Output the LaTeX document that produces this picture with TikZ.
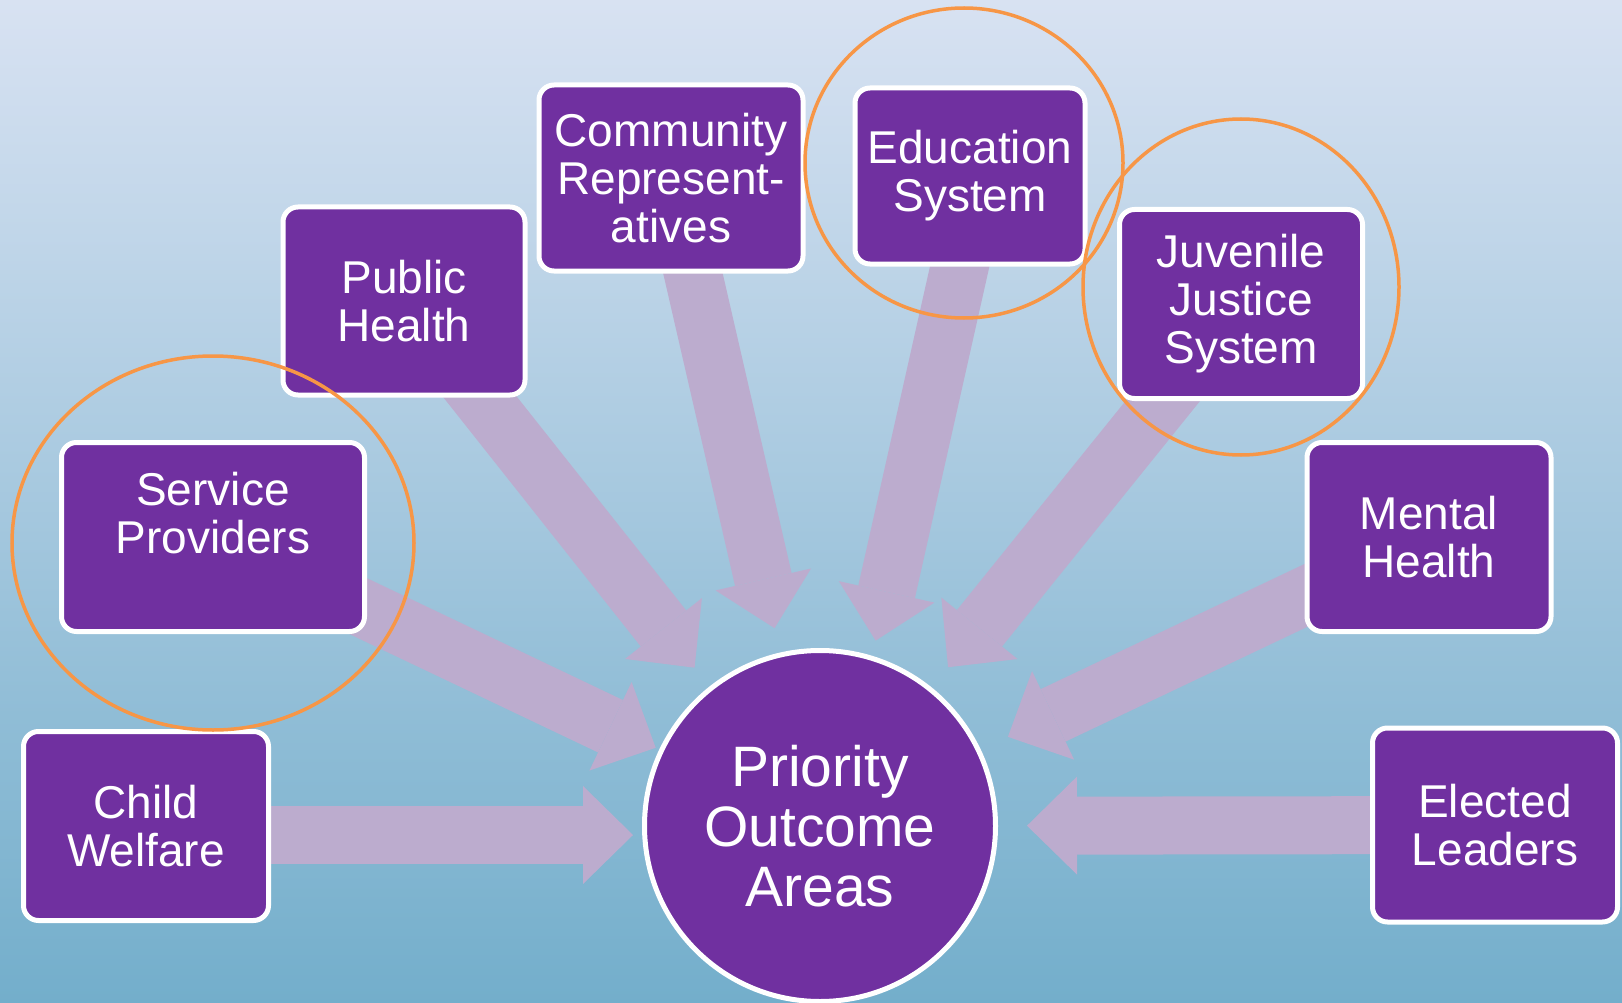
\documentclass[tikz,border=0pt]{standalone}
\usepackage{fontspec}
\setmainfont{Liberation Sans}
\usetikzlibrary{arrows.meta,backgrounds}
\definecolor{boxpurple}{RGB}{112,48,160}
\definecolor{flowlilac}{RGB}{188,172,206}
\definecolor{ringorange}{RGB}{247,150,70}
\definecolor{skytop}{RGB}{216,226,242}
\definecolor{skymid}{RGB}{158,196,224}
\definecolor{skybottom}{RGB}{115,174,203}
\pgfdeclarelayer{sky}
\pgfsetlayers{sky,background,main}

\begin{document}
\begin{tikzpicture}[x=1pt,y=-1pt,
  actor/.style={draw=white,line width=5pt,fill=boxpurple,rounded corners=15pt,
    text=white,align=center,font=\fontsize{46}{48}\selectfont,inner sep=0pt,
    minimum width=245pt,minimum height=189pt},
  hub/.style={circle,draw=white,line width=5pt,fill=boxpurple,text=white,
    align=center,font=\fontsize{57}{60}\selectfont,minimum size=351pt,inner sep=0pt},
  flow/.style={draw=flowlilac,line width=58pt,
    -{Triangle[length=50pt,width=98pt,line width=0pt]}},
  ring/.style={draw=ringorange,line width=3.5pt}]
\useasboundingbox (0,0) rectangle (1622,1003);
\clip (0,0) rectangle (1622,1003);
\begin{pgfonlayer}{sky}
\shade[top color=skytop,middle color=skymid,bottom color=skybottom]
  (0,0) rectangle (1622,1003);
\end{pgfonlayer}

% partners
\node[actor] (child) at (146,826) {Child\\Welfare};
\node[actor,minimum width=303pt] (providers) at (213,537) {Service\\Providers\\\mbox{}};
\node[actor,minimum width=242pt,minimum height=188pt] (health) at (404,301) {Public\\Health};
\node[actor,minimum width=264pt,minimum height=186pt] (community) at (671,178) {Community\\Represent-\\atives};
\node[actor,minimum width=230pt,minimum height=176pt] (education) at (970,176) {Education\\System};
\node[actor,minimum width=243pt] (justice) at (1241,304) {Juvenile\\Justice\\System};
\node[actor,minimum width=244pt] (mental) at (1429,537) {Mental\\Health};
\node[actor,minimum height=194pt] (leaders) at (1495,825) {Elected\\Leaders};
\node[hub] (priority) at (820,826) {Priority\\Outcome\\Areas};

% arrows into the hub
\begin{scope}[on background layer]
\draw[flow,shorten >=9pt] ([yshift=-9pt]child.center) -- ([yshift=-9pt]priority.west);
\draw[flow,shorten >=4pt] (providers.center) -- (priority);
\draw[flow,shorten >=24pt] (health.center) -- (priority);
\draw[flow,shorten >=25pt] (community.center) -- (priority);
\draw[flow,shorten >=190pt] ([xshift=10pt]education.center) -- ([xshift=14pt]priority.center);
\draw[flow,shorten >=26pt] (justice.center) -- (priority);
\draw[flow,shorten >=30pt] (mental.center) -- (priority);
\draw[flow,shorten >=29pt] (leaders.center) -- (priority);
\end{scope}

% highlights
\draw[ring] (213,543) ellipse [x radius=201,y radius=187];
\draw[ring] (964,163) ellipse [x radius=159,y radius=155];
\draw[ring] (1241,287) ellipse [x radius=158,y radius=168];
\end{tikzpicture}
\end{document}
